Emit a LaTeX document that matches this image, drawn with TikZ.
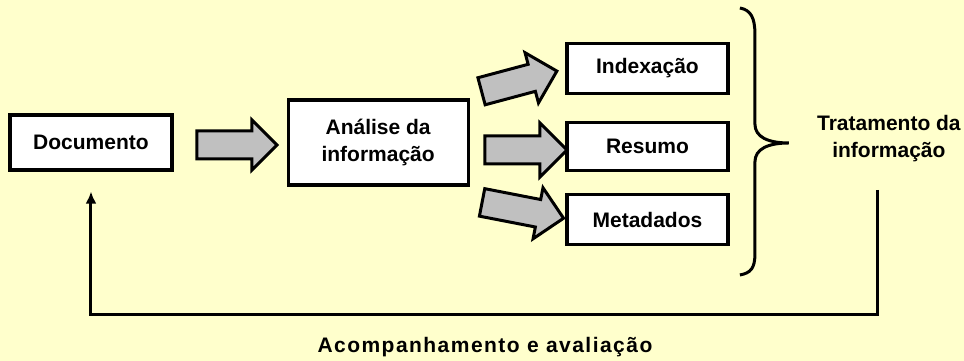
\documentclass[tikz,border=0pt]{standalone}
\usepackage{fontspec}
\setmainfont{Liberation Sans}
\usetikzlibrary{arrows.meta,positioning,shapes.arrows}
\definecolor{tibg}{HTML}{FFFFCC}
\definecolor{tigray}{HTML}{C0C0C0}

\begin{document}
\begin{tikzpicture}[
  x=1pt, y=1pt,
  font=\bfseries\fontsize{21}{27}\selectfont,
  >=Latex,
  box/.style={draw, line width=3.2pt, fill=white, align=center, inner sep=0pt},
  blockarrow/.style={single arrow, draw, line width=3pt, fill=tigray,
    inner xsep=0pt, inner ysep=12.5pt, single arrow head extend=#1,
    single arrow head indent=0pt},
  blockarrow/.default=12pt,
]
\path[fill=tibg] (0,0) rectangle (964,-361);
\node[box, minimum width=162pt, minimum height=55pt] (doc) at (91,-142.5) {Documento};
\node[box, minimum width=180pt, minimum height=85pt, right=113pt of doc.east, anchor=west] (ana) {Análise da\\informação};
\node[box, minimum width=161pt, minimum height=48pt] (res) at (647.5,-146.5) {Resumo};
\node[box, minimum width=161pt, minimum height=50pt, above=26pt of res] (idx) {Indexação};
\node[box, minimum width=161pt, minimum height=50pt, below=21pt of res] (meta) {Metadados};
% block arrows
\node[blockarrow=11pt, minimum height=80pt] (a1) at (230,-145) {};
\node[blockarrow=13pt, minimum height=82pt] (a2) at (519,-150) {};
\node[blockarrow, minimum height=78pt, rotate=15] (a3) at (512.5,-83) {};
\node[blockarrow, minimum height=83pt, rotate=-11] (a4) at (516,-209) {};
% brace
\draw[line width=3pt] (740,-8) .. controls (751,-10) and (755,-18) .. (755,-34)
  -- (755,-124) .. controls (755,-137) and (768,-143) .. (789,-143)
  .. controls (768,-143) and (755,-149) .. (755,-162)
  -- (755,-254) .. controls (755,-268) and (751,-273) .. (740,-275);
\node[align=center] (trat) at (889,-139) {Tratamento da\\informação};
% feedback loop
\coordinate (fbtop) at (878,-190);
\coordinate (fbcorner) at (878,-315);
\coordinate (fbend) at ([yshift=-20pt]doc.south);
\draw[line width=3pt, -{Latex[length=12pt,width=11pt]}] (fbtop) -- (fbcorner) -| (fbend);
\node[font=\bfseries\fontsize{21}{27}\selectfont\addfontfeature{LetterSpace=7}] (acomp) at (485,-347) {Acompanhamento e avaliação};
\end{tikzpicture}
\end{document}
